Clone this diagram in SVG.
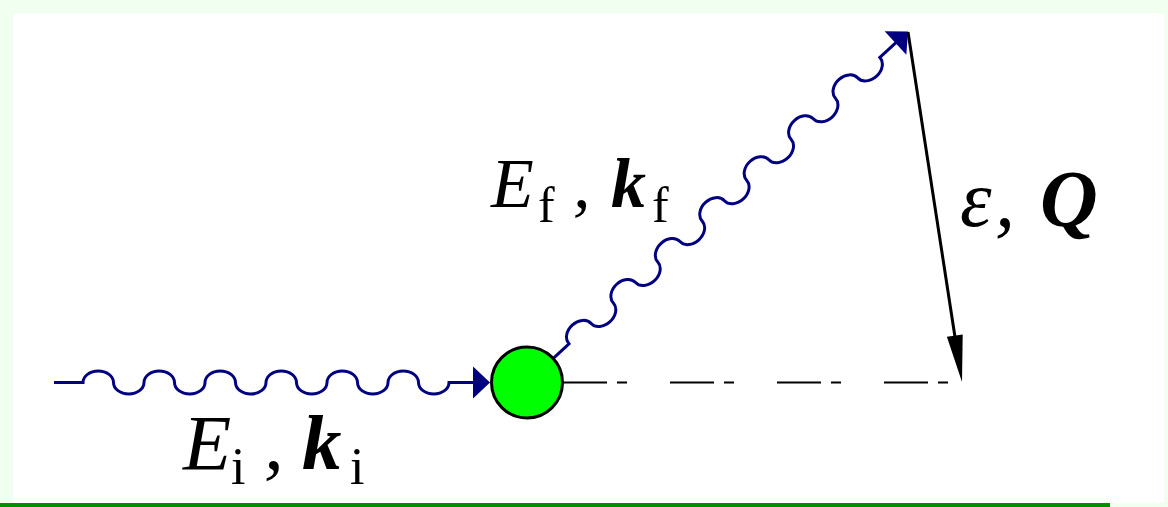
<svg xmlns="http://www.w3.org/2000/svg" width="1168" height="507" viewBox="0 0 1168 507">
<style>
.wave{fill:none;stroke:#000080;stroke-width:3}
.head{fill:#000080}
.lbl{font-family:"Liberation Serif","Times New Roman",serif;fill:#000}
.it{font-style:italic}
.bi{font-style:italic;font-weight:bold}
</style>
<g id="frame">
<rect x="0" y="0" width="1168" height="507" fill="#f0fff0"/>
<rect x="13" y="13" width="1151" height="490" fill="#ffffff"/>
<rect x="0" y="503" width="1110" height="4" fill="#009000"/>
</g>
<g id="connectors">
<g id="incoming">
<path class="wave" d="M54,382.5 H83 a15.25,11.5 0 0 1 30.5,0 a15.25,11.5 0 0 0 30.5,0 a15.25,11.5 0 0 1 30.5,0 a15.25,11.5 0 0 0 30.5,0 a15.25,11.5 0 0 1 30.5,0 a15.25,11.5 0 0 0 30.5,0 a15.25,11.5 0 0 1 30.5,0 a15.25,11.5 0 0 0 30.5,0 a15.25,11.5 0 0 1 30.5,0 a15.25,11.5 0 0 0 30.5,0 a15.25,11.5 0 0 1 30.5,0 a15.25,11.5 0 0 0 30.5,0 H474"/>
<polygon class="head" points="473,366.5 490,382.5 473,398.5"/>
</g>
<g id="outgoing" transform="translate(527,382.5) rotate(-42.65)">
<path class="wave" d="M35,0 H57 a15.1,11.5 0 0 1 30.2,0 a15.1,11.5 0 0 0 30.2,0 a15.1,11.5 0 0 1 30.2,0 a15.1,11.5 0 0 0 30.2,0 a15.1,11.5 0 0 1 30.2,0 a15.1,11.5 0 0 0 30.2,0 a15.1,11.5 0 0 1 30.2,0 a15.1,11.5 0 0 0 30.2,0 a15.1,11.5 0 0 1 30.2,0 a15.1,11.5 0 0 0 30.2,0 a15.1,11.5 0 0 1 30.2,0 a15.1,11.5 0 0 0 30.2,0 a15.1,11.5 0 0 1 30.2,0 a15.1,11.5 0 0 0 30.2,0 H502"/>
<polygon class="head" points="501,-16 518,0 501,16"/>
</g>
<line id="axis" x1="563" y1="382.5" x2="962" y2="382.5" stroke="#000" stroke-width="2" stroke-dasharray="44 10 10 43"/>
<g id="transfer">
<line x1="908" y1="32" x2="955" y2="337" stroke="#000" stroke-width="3"/>
<polygon points="962,382 946.9,336.8 962.7,334.4" fill="#000"/>
</g>
</g>
<g id="sample">
<circle cx="527" cy="382.5" r="35.5" fill="#00ff00" stroke="#000" stroke-width="3"/>
</g>
<g id="label-initial">
<text class="lbl" font-size="79" y="469"><tspan class="it" x="183">E</tspan><tspan x="231" y="484" font-size="52">i</tspan><tspan class="it" x="264" y="469">,</tspan><tspan class="bi" x="302">k</tspan><tspan x="350" y="484" font-size="52">i</tspan></text>
</g>
<g id="label-final">
<text class="lbl" font-size="70" y="207"><tspan class="it" x="491">E</tspan><tspan x="538" y="222" font-size="50">f</tspan><tspan class="it" x="573" y="207">,</tspan><tspan class="bi" x="611">k</tspan><tspan x="652" y="222" font-size="50">f</tspan></text>
</g>
<g id="label-transfer">
<text class="lbl" font-size="80" y="226"><tspan class="it" x="960">ε</tspan><tspan class="it" x="995">,</tspan><tspan class="bi" x="1040">Q</tspan></text>
</g>
</svg>
